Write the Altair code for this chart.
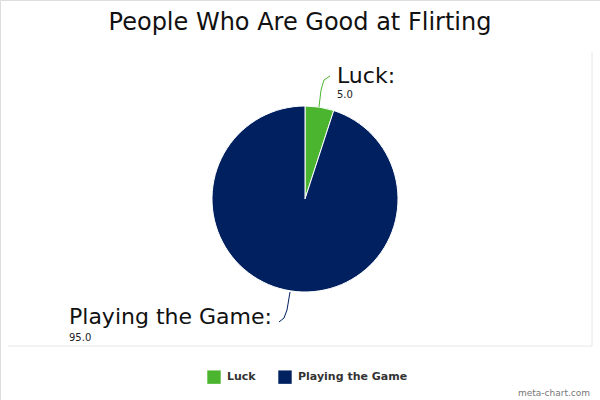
import altair as alt
import pandas as pd

categories = ["Luck", "Playing the Game"]
values = [5.0, 95.0]
colors = ["#4cb52f", "#002060"]

df = pd.DataFrame({"category": categories, "value": values, "order": [0, 1]})
df["label"] = df["category"] + ":"
df["vtext"] = df["value"].map(lambda v: f"{v:.1f}")

FONT = "DejaVu Sans"
CX, CY, R = 305, 199, 93

base = alt.Chart(df)

pie = base.mark_arc(outerRadius=R, stroke="white", strokeWidth=1).encode(
    theta=alt.Theta("value:Q", stack=True),
    order=alt.Order("order:Q"),
    color=alt.Color(
        "category:N",
        scale=alt.Scale(domain=categories, range=colors),
        legend=alt.Legend(
            title=None,
            orient="none",
            legendX=207,
            legendY=370,
            direction="horizontal",
            symbolType="square",
            symbolSize=180,
            symbolStrokeWidth=0,
            labelFont=FONT,
            labelFontSize=11,
            labelFontWeight="bold",
            labelColor="#333333",
            columnPadding=22,
            labelOffset=6,
        ),
    ),
    x=alt.value(CX),
    y=alt.value(CY),
)

def big_label(cat, x, y):
    return base.transform_filter(alt.datum.category == cat).mark_text(
        align="left", baseline="alphabetic", font=FONT, fontSize=22, color="#111111"
    ).encode(text="label:N", x=alt.value(x), y=alt.value(y))

def small_label(cat, x, y):
    return base.transform_filter(alt.datum.category == cat).mark_text(
        align="left", baseline="alphabetic", font=FONT, fontSize=10, color="#222222"
    ).encode(text="vtext:N", x=alt.value(x), y=alt.value(y))

def seg(x1, y1, x2, y2, color):
    return base.transform_filter(alt.datum.order == 0).mark_rule(
        color=color, strokeWidth=1
    ).encode(x=alt.value(x1), y=alt.value(y1), x2=alt.value(x2), y2=alt.value(y2))

lines = [
    seg(319, 107, 321, 90, "#4cb52f"),
    seg(321, 90, 324, 80, "#4cb52f"),
    seg(324, 80, 330, 76, "#4cb52f"),
    seg(290, 292, 287, 310, "#002060"),
    seg(287, 310, 284, 318, "#002060"),
    seg(284, 318, 279, 322, "#002060"),
]

frame = [
    seg(8, 346, 592, 346, "#e6e6e6"),
    seg(592, 52, 592, 346, "#e6e6e6"),
]

title = base.transform_filter(alt.datum.order == 0).mark_text(
    align="center", baseline="alphabetic", font=FONT, fontSize=24, color="#111111",
    text="People Who Are Good at Flirting",
).encode(x=alt.value(300), y=alt.value(30))

watermark = base.transform_filter(alt.datum.order == 0).mark_text(
    align="right", baseline="alphabetic", font=FONT, fontSize=9, color="#777777",
    text="meta-chart.com",
).encode(x=alt.value(590), y=alt.value(396))

chart = alt.layer(
    *frame,
    pie,
    *lines,
    big_label("Luck", 337, 83),
    small_label("Luck", 337, 98),
    big_label("Playing the Game", 69, 324),
    small_label("Playing the Game", 69, 341),
    title,
    watermark,
).properties(
    width=600, height=400, autosize=alt.AutoSizeParams(type="none"), padding=0
).configure_view(stroke=None).configure(background="white")

chart.save("out.html", embed_options={"renderer": "svg", "actions": False})
